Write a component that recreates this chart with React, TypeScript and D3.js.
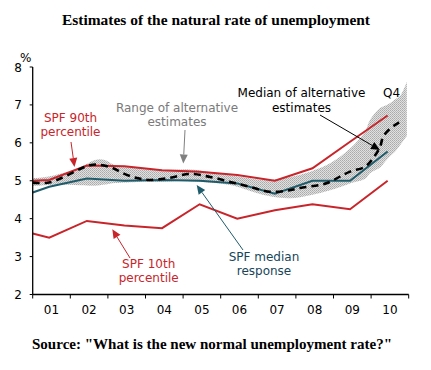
import React from "react";
import * as d3 from "d3";

// ---- Data ----
const yearTicks = [2001, 2002, 2003, 2004, 2005, 2006, 2007, 2008, 2009, 2010, 2011];
const yearLabels = ["01", "02", "03", "04", "05", "06", "07", "08", "09", "10"];
const yTicks = [2, 3, 4, 5, 6, 7, 8];

// SPF survey dates (fractional years)
const spfDates = [2001.0, 2001.44, 2002.44, 2003.44, 2004.44, 2005.44, 2006.44, 2007.44, 2008.44, 2009.44, 2010.44];
const spf90 = [5.0, 5.02, 5.4, 5.38, 5.28, 5.24, 5.15, 5.0, 5.33, 6.03, 6.72];
const spfMedian = [4.69, 4.84, 5.06, 5.0, 5.02, 5.0, 4.93, 4.66, 5.0, 5.0, 5.77];
const spf10 = [3.61, 3.5, 3.94, 3.82, 3.75, 4.38, 4.0, 4.22, 4.38, 4.25, 5.0];

// Median of alternative estimates
const altDates = [2001.0, 2001.46, 2002.52, 2002.79, 2003.14, 2003.4, 2003.77, 2004.12, 2004.65, 2005.18, 2005.72, 2006.25, 2006.78, 2007.31, 2007.84, 2008.11, 2008.64, 2008.91, 2009.17, 2009.44, 2009.84, 2010.05, 2010.24, 2010.32, 2010.51, 2010.7, 2010.83];
const altMedian = [4.95, 4.96, 5.41, 5.42, 5.33, 5.2, 5.07, 5.02, 5.08, 5.18, 5.1, 4.97, 4.84, 4.71, 4.75, 4.81, 4.89, 4.97, 5.11, 5.24, 5.37, 5.59, 5.9, 6.16, 6.38, 6.51, 6.6];

// Range of alternative estimates
const bandDates = [2001.0, 2001.46, 2002.26, 2002.66, 2002.92, 2003.19, 2003.86, 2004.39, 2005.18, 2006.25, 2007.18, 2007.84, 2008.38, 2008.91, 2009.44, 2009.84, 2009.97, 2010.24, 2010.37, 2010.51, 2010.64, 2010.78, 2010.95];
const bandHigh = [5.07, 5.12, 5.35, 5.55, 5.55, 5.41, 5.34, 5.28, 5.3, 5.15, 5.02, 5.1, 5.24, 5.46, 5.85, 6.3, 6.6, 6.92, 6.98, 7.05, 7.15, 7.25, 7.61];
const bandLow = [4.86, 4.89, 4.88, 4.87, 4.9, 4.94, 4.97, 4.97, 4.99, 4.89, 4.62, 4.54, 4.62, 4.75, 4.93, 5.05, 5.2, 5.35, 5.5, 5.65, 5.77, 5.95, 6.18];

const RED = "#c8252b";
const TEAL = "#1f5c6b";
const TEAL_TEXT = "#17465a";
const GRAY_TEXT = "#7a7a7a";

const FONT = "'DejaVu Sans', Verdana, sans-serif";
const SERIF = "'Liberation Serif', 'Times New Roman', serif";

function Arrow({ x1, y1, x2, y2, color, width = 1 }: { x1: number; y1: number; x2: number; y2: number; color: string; width?: number }) {
  const ang = Math.atan2(y2 - y1, x2 - x1);
  const len = 9;
  const half = 4;
  const bx = x2 - len * Math.cos(ang);
  const by = y2 - len * Math.sin(ang);
  const px = -Math.sin(ang) * half;
  const py = Math.cos(ang) * half;
  return (
    <g>
      <line x1={x1} y1={y1} x2={bx} y2={by} stroke={color} strokeWidth={width} />
      <polygon points={`${x2},${y2} ${bx + px},${by + py} ${bx - px},${by - py}`} fill={color} />
    </g>
  );
}

export default function App() {
  const x = d3.scaleLinear().domain([2001, 2011]).range([32.7, 408.7]);
  const y = d3.scaleLinear().domain([2, 8]).range([294.5, 67]);

  const line = d3
    .line<[number, number]>()
    .x((d) => x(d[0]))
    .y((d) => y(d[1]));
  const smooth = d3
    .line<[number, number]>()
    .x((d) => x(d[0]))
    .y((d) => y(d[1]))
    .curve(d3.curveCatmullRom);
  const area = d3
    .area<number>()
    .x((_, i) => x(bandDates[i]))
    .y0((_, i) => y(bandLow[i]))
    .y1((_, i) => y(bandHigh[i]))
    .curve(d3.curveCatmullRom);

  const z = (a: number[], b: number[]) => a.map((v, i) => [v, b[i]] as [number, number]);

  return (
    <svg width={431} height={370} style={{ position: "fixed", left: 0, top: 0, background: "#fff" }}>
      <defs>
        <pattern id="stip" width="2" height="2" patternUnits="userSpaceOnUse">
          <rect width="2" height="2" fill="#e0e0e0" />
          <rect width="1" height="1" fill="#aaaaaa" />
          <rect x="1" y="1" width="1" height="1" fill="#b8b8b8" />
        </pattern>
      </defs>

      <text x={62} y={25} textLength={308} lengthAdjust="spacingAndGlyphs" fontFamily={SERIF} fontWeight="bold" fontSize={14.5}>
        Estimates of the natural rate of unemployment
      </text>

      {/* band */}
      <path d={area(bandDates) || ""} fill="url(#stip)" />

      {/* lines */}
      <path d={line(z(spfDates, spf10)) || ""} fill="none" stroke={RED} strokeWidth={2} />
      <path d={line(z(spfDates, spf90)) || ""} fill="none" stroke={RED} strokeWidth={2} />
      <path d={line(z(spfDates, spfMedian)) || ""} fill="none" stroke={TEAL} strokeWidth={2} />
      <path d={smooth(z(altDates, altMedian)) || ""} fill="none" stroke="#000" strokeWidth={2.6} strokeDasharray="7,5" />

      {/* axes */}
      <line x1={x(2001)} y1={y(8)} x2={x(2001)} y2={y(2)} stroke="#000" strokeWidth={1.3} />
      <line x1={x(2001)} y1={y(2)} x2={x(2011)} y2={y(2)} stroke="#000" strokeWidth={1.3} />
      {yTicks.map((t) => (
        <g key={t}>
          <line x1={x(2001) - 3} x2={x(2001)} y1={y(t)} y2={y(t)} stroke="#000" />
          <text x={22} y={y(t) + 4.5} textAnchor="end" fontFamily={FONT} fontSize={12}>
            {t}
          </text>
        </g>
      ))}
      {yearTicks.map((t) => (
        <line key={t} x1={x(t)} x2={x(t)} y1={y(2)} y2={y(2) + 4} stroke="#000" />
      ))}
      {yearLabels.map((l, i) => (
        <text key={l} x={x(2001.5 + i)} y={314} textAnchor="middle" fontFamily={FONT} fontSize={12}>
          {l}
        </text>
      ))}
      <text x={20} y={62} fontFamily={FONT} fontSize={12}>
        %
      </text>

      {/* annotations */}
      <text fontFamily={FONT} fontSize={12} fill={RED} textAnchor="middle">
        <tspan x={70.5} y={121.5}>SPF 90th</tspan>
        <tspan x={70.5} y={136}>percentile</tspan>
      </text>
      <Arrow x1={71} y1={142} x2={74.5} y2={167} color={RED} />

      <text fontFamily={FONT} fontSize={12} fill={GRAY_TEXT} textAnchor="middle">
        <tspan x={177} y={111.5}>Range of alternative</tspan>
        <tspan x={177} y={126}>estimates</tspan>
      </text>
      <Arrow x1={185} y1={130} x2={183.3} y2={163.5} color="#808080" />

      <text fontFamily={FONT} fontSize={12} fill="#000" textAnchor="middle">
        <tspan x={301.5} y={97}>Median of alternative</tspan>
        <tspan x={301.5} y={111.5}>estimates</tspan>
      </text>
      <text x={383} y={97} fontFamily={FONT} fontSize={12}>
        Q4
      </text>
      <Arrow x1={320} y1={115} x2={380} y2={150} color="#000" />

      <text fontFamily={FONT} fontSize={12} fill={TEAL_TEXT} textAnchor="middle">
        <tspan x={264} y={260.5}>SPF median</tspan>
        <tspan x={264} y={274.5}>response</tspan>
      </text>
      <Arrow x1={243} y1={250} x2={196.7} y2={185} color={TEAL} />

      <text fontFamily={FONT} fontSize={12} fill={RED} textAnchor="middle">
        <tspan x={148.7} y={268.3}>SPF 10th</tspan>
        <tspan x={148.7} y={281.5}>percentile</tspan>
      </text>
      <Arrow x1={130} y1={258} x2={112.3} y2={229.3} color={RED} />

      <text x={32} y={349} textLength={360} lengthAdjust="spacingAndGlyphs" fontFamily={SERIF} fontWeight="bold" fontSize={14.5}>
        Source: "What is the new normal unemployment rate?"
      </text>
    </svg>
  );
}
